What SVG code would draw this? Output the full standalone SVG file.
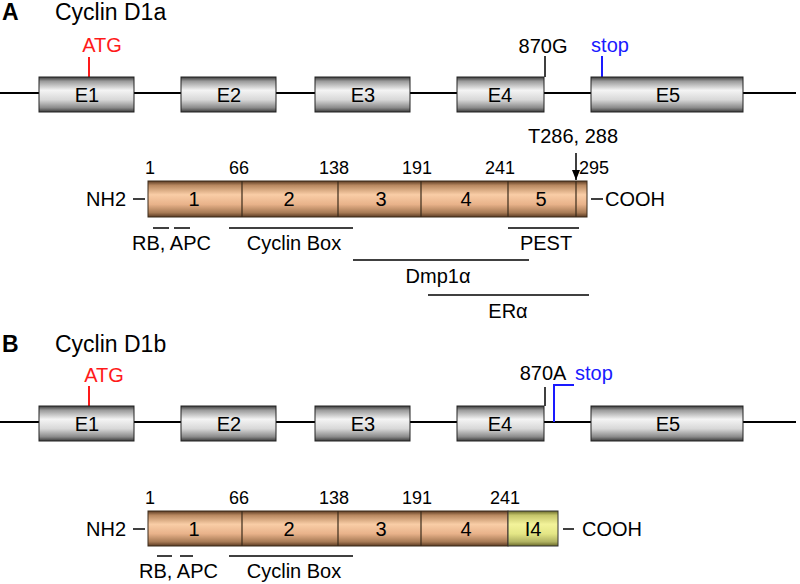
<svg xmlns="http://www.w3.org/2000/svg" width="800" height="584" viewBox="0 0 800 584">
<defs>
<linearGradient id="gExon" x1="0" y1="0" x2="0" y2="1">
<stop offset="0" stop-color="#3a3a3a"/>
<stop offset="0.12" stop-color="#9a9a9a"/>
<stop offset="0.38" stop-color="#f4f4f4"/>
<stop offset="0.65" stop-color="#d8d8d8"/>
<stop offset="0.88" stop-color="#8a8a8a"/>
<stop offset="1" stop-color="#3a3a3a"/>
</linearGradient>
<linearGradient id="gProt" x1="0" y1="0" x2="0" y2="1">
<stop offset="0" stop-color="#5a3a22"/>
<stop offset="0.12" stop-color="#b88860"/>
<stop offset="0.38" stop-color="#f9cda6"/>
<stop offset="0.65" stop-color="#e8b28a"/>
<stop offset="0.88" stop-color="#a77a55"/>
<stop offset="1" stop-color="#5a3a22"/>
</linearGradient>
<linearGradient id="gI4" x1="0" y1="0" x2="0" y2="1">
<stop offset="0" stop-color="#6a6a2a"/>
<stop offset="0.12" stop-color="#c4c46a"/>
<stop offset="0.38" stop-color="#f3f39a"/>
<stop offset="0.65" stop-color="#e4e686"/>
<stop offset="0.88" stop-color="#b0b262"/>
<stop offset="1" stop-color="#6a6a2a"/>
</linearGradient>
<marker id="arr" markerWidth="10" markerHeight="8" refX="10" refY="4" orient="auto" markerUnits="userSpaceOnUse" viewBox="0 0 10 8">
<path d="M0,0 L10,4 L0,8 Z" fill="#000"/>
</marker>
</defs>
<style>
text{font-family:"Liberation Sans",Arial,sans-serif;font-size:20px;fill:#000}
.t{font-size:23px}
.p{font-size:23px;font-weight:bold}
.n{font-size:18px}
.red{fill:#ff1a1a}
.blue{fill:#1a1aff}
.mid{text-anchor:middle}
.exon{fill:url(#gExon);stroke:#222;stroke-width:1}
.prot{fill:url(#gProt);stroke:#3a2a1a;stroke-width:1}
.i4{fill:url(#gI4);stroke:#333;stroke-width:1}
.div{stroke:#3a2a1a;stroke-width:1.2}
.ln{stroke:#000;stroke-width:2;fill:none}
.bar{stroke:#000;stroke-width:1.5;fill:none}
</style>

<!-- Panel A -->
<text class="p" x="2" y="20">A</text>
<text class="t" x="55" y="20">Cyclin D1a</text>

<g id="connectors-A">
<line class="ln" x1="0" y1="93" x2="796" y2="93"/>
<line stroke="#ff1a1a" stroke-width="2" x1="89" y1="57" x2="89" y2="77"/>
<line stroke="#000" stroke-width="1.5" x1="545" y1="56" x2="545" y2="77"/>
<line stroke="#1a1aff" stroke-width="2" x1="602" y1="56" x2="602" y2="80"/>
</g>
<g id="exonA1"><rect class="exon" x="39" y="77" width="95" height="35"/><text class="mid" x="87" y="102">E1</text></g>
<g id="exonA2"><rect class="exon" x="181" y="77" width="95" height="35"/><text class="mid" x="229" y="102">E2</text></g>
<g id="exonA3"><rect class="exon" x="315" y="77" width="95" height="35"/><text class="mid" x="363" y="102">E3</text></g>
<g id="exonA4"><rect class="exon" x="457" y="77" width="87" height="35"/><text class="mid" x="500" y="102">E4</text></g>
<g id="exonA5"><rect class="exon" x="591" y="77" width="152" height="35"/><text class="mid" x="668" y="102">E5</text></g>
<text class="red mid" x="102" y="52">ATG</text>
<text class="mid" x="543" y="53">870G</text>
<text class="blue mid" x="610" y="52">stop</text>

<g id="proteinA">
<rect class="prot" x="148" y="181" width="439" height="36"/>
<line class="div" x1="242" y1="181" x2="242" y2="217"/>
<line class="div" x1="338" y1="181" x2="338" y2="217"/>
<line class="div" x1="421" y1="181" x2="421" y2="217"/>
<line class="div" x1="508" y1="181" x2="508" y2="217"/>
<line class="div" x1="576" y1="181" x2="576" y2="217"/>
<text class="mid" x="194" y="206">1</text>
<text class="mid" x="289" y="206">2</text>
<text class="mid" x="381" y="206">3</text>
<text class="mid" x="466" y="206">4</text>
<text class="mid" x="541" y="206">5</text>
</g>
<text class="n mid" x="150" y="174">1</text>
<text class="n mid" x="239" y="174">66</text>
<text class="n mid" x="334" y="174">138</text>
<text class="n mid" x="417" y="174">191</text>
<text class="n mid" x="500" y="174">241</text>
<text class="n" x="579" y="174">295</text>
<text x="528" y="143">T286, 288</text>
<text x="86" y="206">NH2</text>
<line class="bar" x1="133" y1="199" x2="145" y2="199"/>
<line class="bar" x1="591" y1="199" x2="603" y2="199"/>
<text x="605" y="206">COOH</text>

<g id="connectors-A-domains">
<line stroke="#000" stroke-width="1.5" x1="576" y1="153" x2="576" y2="180" marker-end="url(#arr)"/>
<line class="bar" x1="153" y1="228" x2="169" y2="228"/>
<line class="bar" x1="174" y1="228" x2="190" y2="228"/>
<line class="bar" x1="229" y1="228" x2="353" y2="228"/>
<line class="bar" x1="508" y1="228" x2="579" y2="228"/>
<line class="bar" x1="353" y1="260" x2="529" y2="260"/>
<line class="bar" x1="428" y1="295" x2="589" y2="295"/>
</g>
<text x="132" y="250">RB, APC</text>
<text class="mid" x="294" y="250">Cyclin Box</text>
<text class="mid" x="546" y="250">PEST</text>
<text class="mid" x="438" y="283">Dmp1α</text>
<text class="mid" x="508" y="318">ERα</text>

<!-- Panel B -->
<text class="p" x="2" y="352">B</text>
<text class="t" x="55" y="352">Cyclin D1b</text>

<g id="connectors-B">
<line class="ln" x1="0" y1="422" x2="796" y2="422"/>
<line stroke="#ff1a1a" stroke-width="2" x1="89" y1="386" x2="89" y2="406"/>
<line stroke="#000" stroke-width="1.5" x1="545" y1="387" x2="545" y2="406"/>
<polyline fill="none" stroke="#1a1aff" stroke-width="2" points="554,422 554,385 574,385"/>
</g>
<g id="exonB1"><rect class="exon" x="39" y="406" width="95" height="35"/><text class="mid" x="87" y="431">E1</text></g>
<g id="exonB2"><rect class="exon" x="181" y="406" width="95" height="35"/><text class="mid" x="229" y="431">E2</text></g>
<g id="exonB3"><rect class="exon" x="315" y="406" width="95" height="35"/><text class="mid" x="363" y="431">E3</text></g>
<g id="exonB4"><rect class="exon" x="457" y="406" width="87" height="35"/><text class="mid" x="500" y="431">E4</text></g>
<g id="exonB5"><rect class="exon" x="591" y="406" width="152" height="35"/><text class="mid" x="668" y="431">E5</text></g>
<text class="red mid" x="104" y="382">ATG</text>
<text class="mid" x="543" y="380">870A</text>
<text class="blue" x="575" y="380">stop</text>

<g id="proteinB">
<rect class="prot" x="148" y="511" width="360" height="35"/>
<rect class="i4" x="508" y="511" width="50" height="35"/>
<line class="div" x1="242" y1="511" x2="242" y2="546"/>
<line class="div" x1="338" y1="511" x2="338" y2="546"/>
<line class="div" x1="421" y1="511" x2="421" y2="546"/>
<text class="mid" x="194" y="536">1</text>
<text class="mid" x="289" y="536">2</text>
<text class="mid" x="381" y="536">3</text>
<text class="mid" x="466" y="536">4</text>
<text class="mid" x="533" y="536">I4</text>
</g>
<text class="n mid" x="150" y="504">1</text>
<text class="n mid" x="239" y="504">66</text>
<text class="n mid" x="334" y="504">138</text>
<text class="n mid" x="417" y="504">191</text>
<text class="n mid" x="505" y="504">241</text>
<text x="86" y="536">NH2</text>
<line class="bar" x1="133" y1="529" x2="145" y2="529"/>
<line class="bar" x1="563" y1="529" x2="574" y2="529"/>
<text x="582" y="536">COOH</text>

<g id="connectors-B-domains">
<line class="bar" x1="157" y1="556" x2="172" y2="556"/>
<line class="bar" x1="180" y1="556" x2="193" y2="556"/>
<line class="bar" x1="229" y1="556" x2="353" y2="556"/>
</g>
<text x="139" y="578">RB, APC</text>
<text class="mid" x="294" y="578">Cyclin Box</text>
</svg>
